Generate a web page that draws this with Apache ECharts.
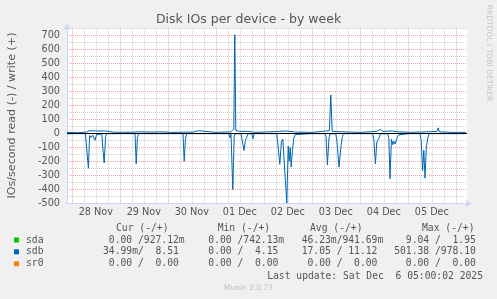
<!DOCTYPE html>
<html><head><meta charset="utf-8">
<script src="https://cdn.jsdelivr.net/npm/echarts@6/dist/echarts.min.js"></script>
<style>html,body{margin:0;padding:0;background:#f0f0f0;}#c{width:497px;height:299px;}</style>
</head><body><div id="c"></div>
<script>
// ---- text ----
const chartTitle = 'Disk IOs per device - by week';
const yAxisTitle = 'IOs/second read (-) / write (+)';
const watermark = 'RRDTOOL / TOBI OETIKER';
const lastUpdate = 'Last update: Sat Dec  6 05:00:02 2025';
const footer = 'Munin 2.0.73';

// ---- x axis (hours since 28 Nov 00:00) ----
const xMin = -2.4, xMax = 197.6;
const dayLabels = ['28 Nov','29 Nov','30 Nov','01 Dec','02 Dec','03 Dec','04 Dec','05 Dec'];
const dayLabelHours = [12,36,60,84,108,132,156,180];
const gridHours = [0,6,12,18,24,30,36,42,48,54,60,66,72,78,84,90,96,102,108,114,120,126,132,138,144,150,156,162,168,174,180,186,192];

// ---- y axis ----
const yMin = -500, yMax = 750, yStep = 50;

// ---- legend table ----
const devices = ['sda','sdb','sr0'];
const deviceColors = ['#00cc00','#0066b3','#ff8000'];
const legendHeaders = ['Cur (-/+)','Min (-/+)','Avg (-/+)','Max (-/+)'];
const curValues = ['  0.00 /927.12m',' 34.99m/  8.51 ','  0.00 /  0.00 '];
const minValues = ['  0.00 /742.13m','  0.00 /  4.15 ','  0.00 /  0.00 '];
const avgValues = [' 46.23m/941.69m',' 17.05 / 11.12 ','  0.00 /  0.00 '];
const maxValues = ['  9.04 /  1.95 ','501.38 /978.10 ','  0.00 /  0.00 '];

// ---- series data: [hour, IOs/s]; reads are plotted negative ----
const sdbRead = [[-2.4,1],[0.5,1],[1.1,14],[1.7,1],[6.8,1],[7.4,10],[8.3,248],[8.9,15],[9.6,30],[10.4,12],[11.0,14],[11.6,48],[12.4,8],[15.0,4],[15.6,120],[16.2,210],[16.9,20],[17.5,1],[31.6,1],[32.2,217],[32.8,30],[33.4,1],[48.9,1],[49.5,10],[50.1,1],[55.6,1],[56.2,198],[56.8,40],[57.4,1],[71.9,1],[72.5,8],[73.1,1],[78.4,1],[79.0,30],[79.6,6],[80.5,400],[81.2,20],[81.8,2],[84.6,2],[85.2,8],[86.1,121],[86.8,50],[87.4,30],[88.0,2],[90.0,2],[90.6,38],[91.2,1],[102.5,1],[103.1,15],[104.0,220],[104.8,60],[105.5,40],[106.5,50],[107.5,497],[108.2,90],[108.7,200],[109.2,100],[109.7,240],[110.3,130],[110.9,40],[111.6,8],[112.2,1],[119.7,1],[120.3,12],[120.9,1],[126.5,1],[127.1,20],[127.8,224],[128.6,30],[129.2,2],[132.0,2],[132.6,60],[133.6,240],[134.6,90],[135.2,30],[135.8,1],[145.2,1],[145.8,8],[146.4,1],[150.4,1],[151.0,40],[151.8,217],[152.5,60],[153.0,65],[153.7,30],[154.3,2],[157.9,2],[158.5,30],[159.1,324],[159.8,40],[160.5,80],[161.0,55],[161.7,75],[162.7,30],[163.4,10],[164.0,1],[168.6,1],[169.2,8],[169.8,1],[174.1,1],[174.7,50],[175.4,264],[176.0,120],[176.6,319],[177.3,90],[178.2,20],[178.8,1],[192.6,1],[193.2,10],[193.8,1],[197.0,1]];
const sdbWrite = [[-2.4,8],[3,6],[7.5,10],[8.6,20],[12,18],[16.5,18],[17.5,8],[21.3,9],[21.9,15],[22.5,9],[30,9],[34,12],[40,10],[44,12],[50,8],[60.5,10],[61.2,20],[63.2,20],[64,10],[72,8],[79.5,12],[81.0,30],[81.5,705],[82.0,20],[84,15],[88,15],[92,8],[104,15],[107,18],[112,10],[120,8],[128.8,20],[129.5,276],[130.2,15],[135,12],[144,8],[152.5,15],[154.2,30],[155.5,15],[160,18],[163,12],[170,8],[177.5,12],[182.6,15],[183.2,40],[183.8,12],[190,8],[197.0,8]];
const sdaRead = [[-2.4,0],[80.0,0],[80.5,9],[81.0,0],[197.0,0]];
const sdaWrite = [[-2.4,0],[81.0,0],[81.5,2],[82.0,0],[197.0,0]];
const sr0Read = [[-2.4,0],[197.0,0]];
const sr0Write = [[-2.4,0],[197.0,0]];

// ---- styles ----
const fontColor = '#555';
const majorGrid = '#f3a3a3';
const minorGrid = '#cfcfcf';
const axisColor = '#CFD6F8';

const neg = arr => arr.map(p => [p[0], -p[1]]);
function lineSeries(name, data, color, extra) {
  return Object.assign({type:'line', name, data, showSymbol:false, symbol:'none', z:2,
    lineStyle:{color, width:1}, itemStyle:{color}, silent:true, animation:false}, extra || {});
}

const graphics = [];
graphics.push({type:'text', x:12, y:115.5, rotation:Math.PI/2,
  style:{text:yAxisTitle, font:'11.1px "DejaVu Sans"', fill:fontColor, textAlign:'center', textVerticalAlign:'middle', align:'center', verticalAlign:'middle'}});
graphics.push({type:'text', x:488.5, y:53, rotation:-Math.PI/2,
  style:{text:watermark, font:'7.5px "DejaVu Sans"', fill:'#c4c4c4', textAlign:'center', textVerticalAlign:'middle', align:'center', verticalAlign:'middle'}});
const headerX = [116, 217.7, 310, 422];
const cellX = [97.2, 196.7, 295.8, 394.2];
const rowY = [240, 251.8, 263.8];
const mono = '9.7px "DejaVu Sans Mono"';
legendHeaders.forEach((h, i) => graphics.push({type:'text', x:headerX[i], y:228.3,
  style:{text:h, font:mono, fill:fontColor, textAlign:'left', textVerticalAlign:'middle', align:'left', verticalAlign:'middle'}}));
const cols = [curValues, minValues, avgValues, maxValues];
devices.forEach((d, r) => {
  graphics.push({type:'rect', shape:{x:14, y:rowY[r]-2.5, width:5, height:5}, style:{fill:deviceColors[r]}});
  graphics.push({type:'text', x:26, y:rowY[r], style:{text:d, font:mono, fill:fontColor, textAlign:'left', textVerticalAlign:'middle', align:'left', verticalAlign:'middle'}});
  cols.forEach((c, i) => graphics.push({type:'text', x:cellX[i], y:rowY[r],
    style:{text:c[r], font:mono, fill:fontColor, textAlign:'left', textVerticalAlign:'middle', align:'left', verticalAlign:'middle'}}));
});
graphics.push({type:'text', x:483, y:276, style:{text:lastUpdate, font:mono, fill:fontColor, textAlign:'right', textVerticalAlign:'middle', align:'right', verticalAlign:'middle'}});
graphics.push({type:'text', x:248.5, y:288.3, style:{text:footer, font:'7.5px "DejaVu Sans"', fill:'#bdbdbd', textAlign:'center', textVerticalAlign:'middle', align:'center', verticalAlign:'middle'}});
graphics.push({type:'text', x:248.5, y:19.5, style:{text:chartTitle, font:'12.5px "DejaVu Sans"', fill:fontColor, textAlign:'center', textVerticalAlign:'middle', align:'center', verticalAlign:'middle'}});

// vertical grid lines (midnight = major, every 6 h = minor)
const vGrid = gridHours.map(h => ({xAxis:h, lineStyle:{color: h % 24 === 0 ? majorGrid : minorGrid, type:[1,1], width:1}}));

const chart = echarts.init(document.getElementById('c'), null, {renderer:'canvas'});
chart.setOption({
  animation:false,
  backgroundColor:'#f0f0f0',
  textStyle:{fontFamily:'DejaVu Sans'},
  grid:{left:67, top:28.5, width:400, height:175, show:true, backgroundColor:'#ffffff', borderWidth:0, containLabel:false},
  xAxis:{type:'value', min:xMin, max:xMax,
    axisLine:{show:true, onZero:false, lineStyle:{color:axisColor, width:1}, symbol:['none','arrow'], symbolSize:[6,7], symbolOffset:[0,5]},
    axisTick:{show:false},
    axisLabel:{customValues:dayLabelHours, formatter:v => dayLabels[dayLabelHours.indexOf(v)] || '', margin:4, color:fontColor, fontSize:9.7, fontFamily:'DejaVu Sans'},
    splitLine:{show:false}},
  yAxis:{type:'value', min:yMin, max:yMax, interval:yStep,
    axisLine:{show:true, onZero:false, lineStyle:{color:axisColor, width:1}, symbol:['none','arrow'], symbolSize:[6,7], symbolOffset:[0,5]},
    axisTick:{show:false},
    axisLabel:{formatter:v => (v % 100 === 0 ? String(v) : ''), margin:7, color:fontColor, fontSize:9.7, fontFamily:'DejaVu Sans'},
    splitLine:{show:true, lineStyle:{color:[majorGrid,minorGrid], type:[1,1], width:1}}},
  series:[
    lineSeries('sr0 read', neg(sr0Read), deviceColors[2], {
      markLine:{silent:true, z:1, symbol:['none','none'], label:{show:false}, animation:false, data:vGrid}}),
    lineSeries('sr0 write', sr0Write, deviceColors[2]),
    lineSeries('sda read', neg(sdaRead), deviceColors[0]),
    lineSeries('sda write', sdaWrite, deviceColors[0]),
    lineSeries('sdb read', neg(sdbRead), deviceColors[1], {z:3}),
    lineSeries('sdb write', sdbWrite, deviceColors[1], {z:3,
      markLine:{silent:true, z:5, symbol:['none','none'], label:{show:false}, animation:false,
        lineStyle:{color:'#000000', width:1, type:'solid'}, data:[{yAxis:0}]}})
  ],
  graphic:graphics
});
</script></body></html>
